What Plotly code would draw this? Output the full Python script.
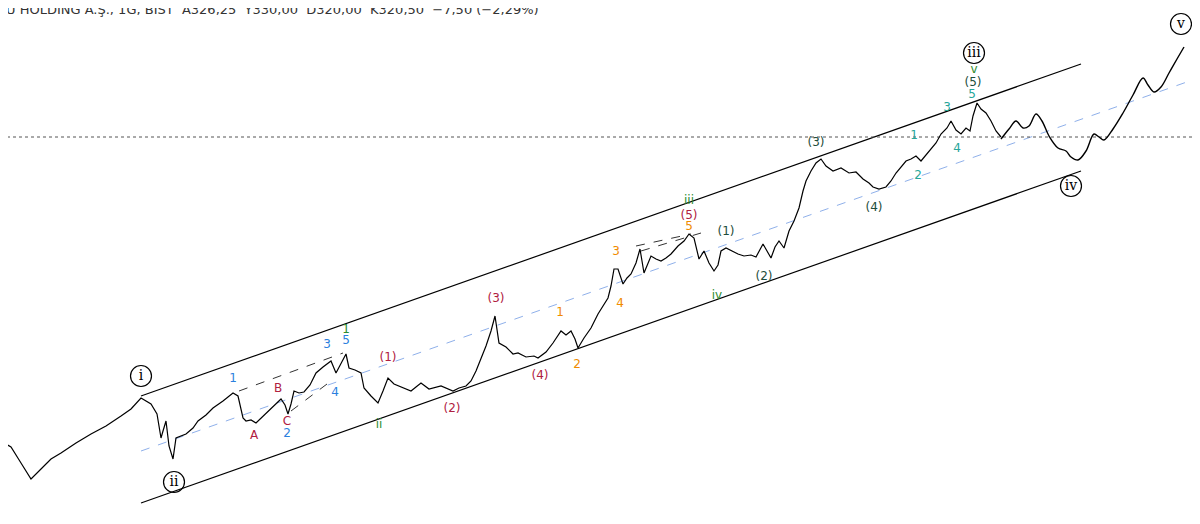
import plotly.graph_objects as go

# price path (x = bar index, y = chart units, inverted axis)
px = [0,10,20,30,40,50,60,75,90,105,120,130,140,150,156,160,162,165,168,172,175,180,185,192,197,205,212,222,232,237,242,245,250,255,261,267,274,280,284,287,290,293,298,303,309,315,322,330,335,340,345,348,354,360,363,370,377,382,387,393,400,410,415,420,428,440,452,458,465,470,475,480,485,490,494,498,505,512,517,525,533,537,545,552,560,565,570,574,577,583,590,597,602,607,610,612,613,617,622,626,630,635,639,643,650,655,660,665,670,677,683,688,693,698,703,708,713,717,720,725,731,737,743,750,755,762,766,770,774,778,783,788,793,798,802,805,810,815,820,825,832,840,848,855,862,868,872,878,885,890,895,900,905,910,915,920,928,935,940,946,950,955,960,965,969,972,976,980,985,990,995,1000]
py = [440,446,462,478,468,458,452,442,433,425,415,408,397,403,413,437,430,420,445,458,437,435,433,427,420,414,407,400,392,395,417,420,419,422,416,410,404,398,404,413,403,390,392,391,384,372,366,360,372,362,353,367,369,372,387,395,402,390,377,383,386,390,386,382,388,385,390,387,385,380,370,358,345,330,315,342,346,353,352,356,355,357,351,342,330,334,330,338,347,337,327,313,305,297,285,275,268,268,283,277,273,262,248,272,255,258,260,257,253,245,240,233,237,258,250,262,270,264,250,247,250,253,255,254,256,243,250,257,246,240,247,230,220,207,190,180,170,162,158,165,170,167,172,171,178,182,186,188,186,180,172,166,160,158,155,160,150,142,133,127,120,129,133,127,130,115,102,108,112,120,130,136,138]
# projected path
fx = [1000,1008,1015,1022,1028,1035,1041,1048,1057,1065,1070,1077,1085,1093,1098,1103,1112,1122,1132,1142,1147,1153,1160,1168,1176,1183]
fy = [138,128,120,127,125,113,120,135,147,150,156,159,150,133,136,139,128,112,94,77,84,91,86,72,58,46]

lbl_text = ["1","A","B","C","2","3","5","1","4","(1)","ii","(2)","(3)","(4)","1","2","3","4","5","(5)","iii","(1)","iv","(2)","(3)","(4)","1","2","3","4","5","(5)","v"]
lbl_x = [232,253,277,286,286,326,345,345,334,387,378,451,495,539,559,576,615,619,688,688,688,725,716,763,815,873,913,917,946,956,971,972,973]
lbl_y = [378,435,388,421,433,344,340,329,392,357,424,408,298,375,312,364,251,303,226,215,200,231,295,276,142,207,135,175,107,148,94,82,69]
RED, BLUE, GRN, ORG, TEAL, DG = "#b0203f", "#2b7fde", "#2e8b2e", "#f08c00", "#26a69a", "#1d4d3b"
lbl_col = [BLUE,RED,RED,RED,BLUE,BLUE,BLUE,GRN,BLUE,RED,GRN,RED,RED,RED,ORG,ORG,ORG,ORG,ORG,RED,GRN,DG,GRN,DG,DG,DG,TEAL,TEAL,TEAL,TEAL,TEAL,DG,GRN]

circ_text = ["i","ii","iii","iv","v"]
circ_x = [140,173,973,1070,1180]
circ_y = [375,481,52,185,23]

fig = go.Figure()
# channel
fig.add_trace(go.Scatter(x=[140,1080], y=[395,63], mode="lines", line=dict(color="black", width=1.2), hoverinfo="skip"))
fig.add_trace(go.Scatter(x=[140,1080], y=[502,170], mode="lines", line=dict(color="black", width=1.2), hoverinfo="skip"))
fig.add_trace(go.Scatter(x=[140,1200], y=[450,76], mode="lines", line=dict(color="#8fb0ea", width=1, dash="dash"), hoverinfo="skip"))
fig.add_trace(go.Scatter(x=[0,1210], y=[136,136], mode="lines", line=dict(color="#555", width=1, dash="dot"), hoverinfo="skip"))
for xs, ys in [([238,342],[390,352]), ([290,330],[410,380]), ([635,690],[245,233]), ([640,700],[250,232])]:
    fig.add_trace(go.Scatter(x=xs, y=ys, mode="lines", line=dict(color="#333", width=1, dash="dash"), hoverinfo="skip"))
fig.add_trace(go.Scatter(x=px, y=py, mode="lines", line=dict(color="black", width=1.2)))
fig.add_trace(go.Scatter(x=fx, y=fy, mode="lines", line=dict(color="black", width=1.4, shape="spline")))
fig.add_trace(go.Scatter(x=lbl_x, y=lbl_y, mode="text", text=lbl_text,
                         textfont=dict(color=lbl_col, size=12, family="DejaVu Sans")))
for t, x, y in zip(circ_text, circ_x, circ_y):
    fig.add_shape(type="circle", x0=x-10.5, x1=x+10.5, y0=y-10.5, y1=y+10.5, line=dict(color="black", width=1.2))
fig.add_trace(go.Scatter(x=circ_x, y=circ_y, mode="text", text=circ_text,
                         textfont=dict(color="black", size=14, family="DejaVu Serif")))
fig.add_annotation(x=0, y=1, xref="paper", yref="paper", xanchor="left", yanchor="top", showarrow=False,
                   text="U HOLDING A.Ş., 1G, BIST  A326,25  Y330,00  D320,00  K320,50  −7,50 (−2,29%)",
                   font=dict(size=13, color="#333", family="DejaVu Sans"), yshift=8, xshift=-4)
fig.update_layout(width=1200, height=524, margin=dict(l=0, r=0, t=0, b=0), showlegend=False,
                  plot_bgcolor="white", paper_bgcolor="white",
                  xaxis=dict(range=[7,1207], visible=False),
                  yaxis=dict(range=[531,7], visible=False))
fig.write_html("out.html")
